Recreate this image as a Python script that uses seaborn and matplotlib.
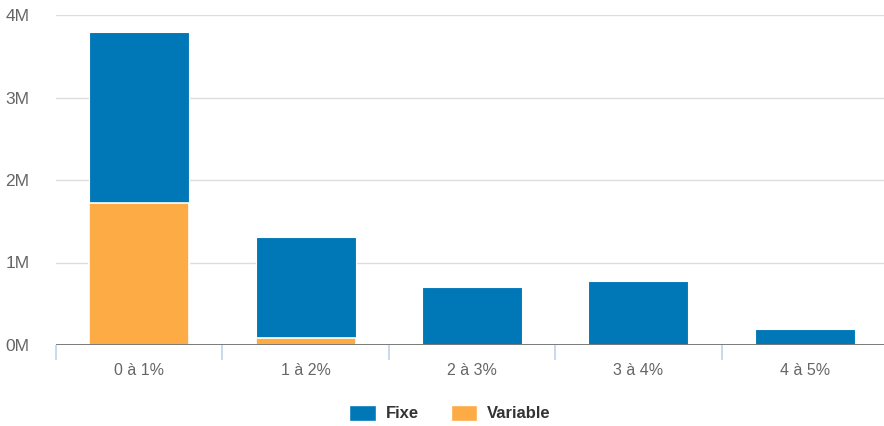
import numpy as np
import pandas as pd
import seaborn as sns
import matplotlib.pyplot as plt
from matplotlib.patches import Patch
from matplotlib.ticker import FuncFormatter, MultipleLocator

categories = ['0 à 1%', '1 à 2%', '2 à 3%', '3 à 4%', '4 à 5%']
fixe = [2.07e6, 1.22e6, 0.70e6, 0.78e6, 0.19e6]
variable = [1.72e6, 0.085e6, 0.0, 0.0, 0.0]

blue = '#0077b6'
orange = '#fdab45'

df = pd.DataFrame({'cat': categories, 'fixe': fixe, 'variable': variable})
df['total'] = df['fixe'] + df['variable']

sns.set_style('white')
plt.rcParams['font.family'] = ['Liberation Sans', 'DejaVu Sans']

fig = plt.figure(figsize=(8.84, 4.26), dpi=100)
ax = fig.add_axes([56 / 884, 81 / 426, 832 / 884, 330 / 426])

sns.barplot(data=df, x='cat', y='total', color=blue, width=0.6,
            saturation=1, edgecolor='white', linewidth=0.8, ax=ax)
sns.barplot(data=df, x='cat', y='variable', color=orange, width=0.6,
            saturation=1, edgecolor='white', linewidth=1.2, ax=ax)

ax.set_xlim(-0.5, len(categories) - 0.5)
ax.set_ylim(0, 4e6)
ax.yaxis.set_major_locator(MultipleLocator(1e6))
ax.yaxis.set_major_formatter(FuncFormatter(lambda v, p: f'{v / 1e6:.0f}M'))
ax.grid(axis='y', color='#dddddd', linewidth=1)
ax.set_axisbelow(True)
ax.axhline(0, color='#555555', linewidth=1.8, zorder=5)

for s in ax.spines.values():
    s.set_visible(False)

ax.set_xlabel('')
ax.set_ylabel('')
ax.tick_params(axis='x', which='major', length=0, pad=13, labelsize=11.5, labelcolor='#666666')
ax.tick_params(axis='y', length=0, pad=19, labelsize=12.5, labelcolor='#666666')
ax.set_xticks(np.arange(-0.5, len(categories), 1), minor=True)
ax.tick_params(axis='x', which='minor', bottom=True, length=11, width=1.2,
               color='#bfd3ea', direction='out')

handles = [Patch(facecolor=blue, label='Fixe'), Patch(facecolor=orange, label='Variable')]
fig.legend(handles=handles, loc='center', bbox_to_anchor=(450 / 884, 1 - 413 / 426),
           ncol=2, frameon=False, prop={'weight': 'bold', 'size': 12},
           handlelength=1.6, handleheight=1.1, handletextpad=0.6,
           columnspacing=1.9, labelcolor='#333333')

fig.savefig('out.png', dpi=100)
